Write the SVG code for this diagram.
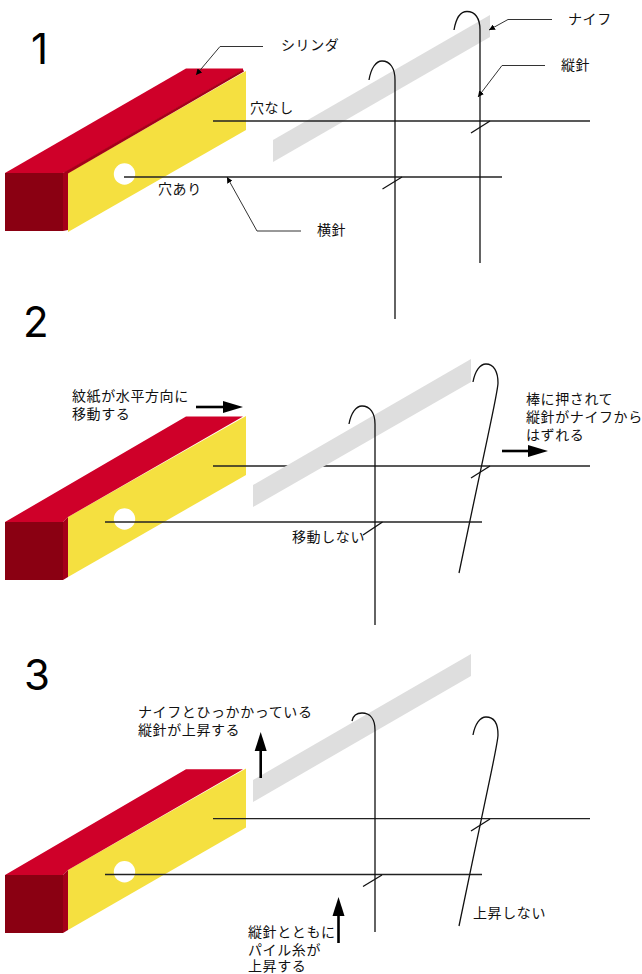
<svg xmlns="http://www.w3.org/2000/svg" width="642" height="974" viewBox="0 0 642 974">
<style>
text{font-family:"Noto Sans CJK JP","Noto Sans",sans-serif;font-size:14px;fill:#111;letter-spacing:.6px}
.num{font-family:Inter,"Liberation Sans",sans-serif;font-size:42px;fill:#000;letter-spacing:0}
.top{fill:#cf0029}.front{fill:#8a0012}.strip{fill:#a50018}.side{fill:#f5e040}.hole{fill:#fff}.knife{fill:#dedede}
.h{fill:none;stroke:#222;stroke-width:1.3}
.n{fill:none;stroke:#111;stroke-width:1.3}
.l{fill:none;stroke:#333;stroke-width:1;marker-end:url(#small)}
.a{fill:none;stroke:#000;stroke-width:2.6}
.ah{fill:#000}
</style>
<defs>
<marker id="small" markerUnits="userSpaceOnUse" markerWidth="7" markerHeight="6" refX="6" refY="3" orient="auto"><path d="M0 0L6 3L0 6Z" fill="#000"/></marker>
</defs>
<rect width="642" height="974" fill="#fff"/>

<g id="panel-1">
<text class="num" x="31" y="64">1</text>
<g id="cylinder-1">
<polygon class="side" points="68,173 246,71 246,130 68,232"/>
<polygon class="top" points="5,173 186,68.5 243,68.5 243,70 66,172 63,173"/>
<polygon class="strip" points="63,173 243,69.5 244,71.5 68,173.5 68,230 63,231"/>
<rect class="front" x="5" y="173" width="58" height="58"/>
<circle class="hole" cx="124.5" cy="174" r="10.7"/>
</g>
<polygon id="knife-1" class="knife" points="273,140 490,15 490,37 273,162"/>
<g id="needles-1">
<path class="h" d="M213 121H590"/><path class="h" d="M124 177H502"/>
<path class="n" d="M471 133L490 121"/><path class="n" d="M382.5 189L402 177"/>
<path class="n" d="M369 80C371 68 376 61 382 61C390 61 395 68 395 80V319"/>
<path class="n" d="M454 30C456 18 461 11.5 467 11.5C475 11.5 480 18 480 30V263"/>
</g>
<g id="connectors-1">
<path class="l" d="M263 46.5H220L196 75"/>
<path class="l" d="M301 231H257L227 177"/>
<path class="l" d="M552 19.5H508L489 30"/>
<path class="l" d="M545 65.5H502L478 97"/>
</g>
<text x="281" y="50">シリンダ</text>
<text x="568" y="24">ナイフ</text>
<text x="561" y="70">縦針</text>
<text x="317" y="235">横針</text>
<text x="250" y="113">穴なし</text>
<text x="158" y="194">穴あり</text>
</g>

<g id="panel-2">
<text class="num" x="23" y="337">2</text>
<g id="cylinder-2">
<polygon class="side" points="68,517 246,416 246,475 68,577"/>
<polygon class="top" points="5,522 186,416.5 243,416.5 68,517 63,522"/>
<polygon class="strip" points="63,522 68,517 68,577 63,580"/>
<rect class="front" x="5" y="522" width="58" height="58"/>
<circle class="hole" cx="124.5" cy="519" r="10.7"/>
</g>
<g id="lines-2">
<path class="h" d="M213 466H590"/><path class="h" d="M105 522H482"/>
</g>
<polygon id="knife-2" class="knife" points="253,485 471,359 471,382 253,507"/>
<g id="needles-2">
<path class="n" d="M471 478L490 466"/><path class="n" d="M363 535L382.5 522"/>
<path class="n" d="M349 424C351 413 356 406 362 406C370 406 375 413 375 424V625"/>
<path class="n" d="M473 382C475 371 480 364 486 364C494 364 498 372 498 383C498 392 494 405 459 573"/>
</g>
<g id="arrows-2">
<path class="a" d="M196 407H224"/><path class="ah" d="M223 401L243 407L223 413Z"/>
<path class="a" d="M502 451H529"/><path class="ah" d="M528 445L548 451L528 457Z"/>
</g>
<text x="72" y="401">紋紙が水平方向に</text>
<text x="72" y="419">移動する</text>
<text x="526" y="404">棒に押されて</text>
<text x="526" y="422">縦針がナイフから</text>
<text x="526" y="440">はずれる</text>
<text x="292" y="542">移動しない</text>
</g>

<g id="panel-3">
<text class="num" x="24" y="690">3</text>
<g id="cylinder-3">
<polygon class="side" points="68,870 246,768.5 246,827.5 68,930"/>
<polygon class="top" points="5,875 186,769.3 243,769.3 68,870 63,875"/>
<polygon class="strip" points="63,875 68,870 68,930 63,933"/>
<rect class="front" x="5" y="875" width="58" height="58"/>
<circle class="hole" cx="124.5" cy="871.7" r="10.7"/>
</g>
<polygon id="knife-3" class="knife" points="253,780 471,654 471,676 253,802"/>
<g id="needles-3">
<path class="h" d="M213 818.7H590"/><path class="h" d="M105 874.5H482"/>
<path class="n" d="M471 831L490 819"/><path class="n" d="M363 886.5L382 875"/>
<path class="n" d="M352 721C353 716 357 713 362 713C370 713 375 719 375 730V932"/>
<path class="n" d="M473 735C475 724 480 717 486 717C494 717 498 724 498 735C498 744 494 757 459 926"/>
</g>
<g id="arrows-3">
<path class="a" d="M260.7 778V750"/><path class="ah" d="M254.7 751L260.7 732L266.7 751Z"/>
<path class="a" d="M338.5 943V915"/><path class="ah" d="M332.5 916L338.5 897L344.5 916Z"/>
</g>
<text x="138" y="717">ナイフとひっかかっている</text>
<text x="138" y="735">縦針が上昇する</text>
<text x="248" y="937">縦針とともに</text>
<text x="248" y="954.5">パイル糸が</text>
<text x="248" y="971">上昇する</text>
<text x="473" y="918">上昇しない</text>
</g>
</svg>
